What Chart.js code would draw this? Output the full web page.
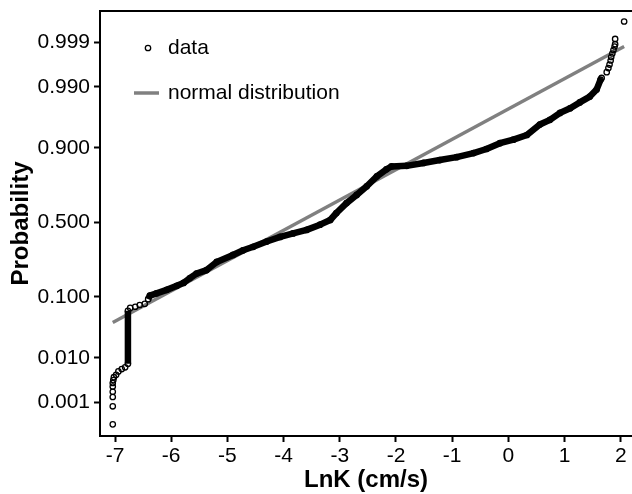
<!DOCTYPE html>
<html>
<head>
<meta charset="utf-8">
<script src="https://cdn.jsdelivr.net/npm/chart.js@4.4.1/dist/chart.umd.min.js"></script>
<style>
  html, body { margin: 0; padding: 0; background: #fff; overflow: hidden; }
  #wrap { width: 632px; height: 494px; }
</style>
</head>
<body>
<div id="wrap"><canvas id="chart" width="632" height="494"></canvas></div>
<script>
// LnK values and their normal scores (probit of plotting position)
const lowTailLnK = [-7.04, -7.04, -7.04, -7.04, -7.04, -7.04, -7.03, -7.02, -6.98, -6.94, -6.88, -6.82];
const lowTailZ   = [-3.47, -3.16, -3.00, -2.91, -2.82, -2.76, -2.71, -2.66, -2.62, -2.56, -2.52, -2.49];

// dense vertical run at about -6.8
const jumpLnK = [-6.77, -6.77];
const jumpZ   = [-2.43, -1.52];

const gapLnK = [-6.73, -6.64, -6.56, -6.47];
const gapZ   = [-1.47, -1.45, -1.42, -1.40];

// dense main body
const bodyLnK = [-6.41, -6.38, -6.26, -6.08, -5.90, -5.78, -5.67, -5.55, -5.37, -5.19,
                 -4.90, -4.72, -4.54, -4.30, -4.06, -3.83, -3.59, -3.35, -3.17, -3.06,
                 -2.88, -2.70, -2.52, -2.34, -2.17, -2.08, -1.81, -1.51, -1.22, -0.92,
                 -0.62, -0.39, -0.15, 0.09, 0.33, 0.56, 0.74, 0.92, 1.10, 1.27,
                 1.45, 1.57, 1.64, 1.66];
const bodyZ   = [-1.32, -1.26, -1.22, -1.16, -1.09, -1.04, -0.96, -0.88, -0.82, -0.68,
                 -0.56, -0.48, -0.42, -0.33, -0.25, -0.19, -0.13, -0.04, 0.04, 0.16,
                 0.33, 0.47, 0.62, 0.79, 0.91, 0.96, 0.97, 1.02, 1.07, 1.12,
                 1.19, 1.26, 1.36, 1.42, 1.50, 1.68, 1.76, 1.88, 1.96, 2.06,
                 2.16, 2.28, 2.45, 2.48];

const highTailLnK = [1.75, 1.78, 1.80, 1.82, 1.83, 1.85, 1.87, 1.89, 1.90, 1.90, 2.06];
const highTailZ   = [2.58, 2.65, 2.71, 2.78, 2.84, 2.90, 2.96, 3.02, 3.06, 3.15, 3.45];

// fitted normal distribution line (end points)
const normLnK = [-7.04, 2.06];
const normZ   = [-1.72, 3.02];

const xTicks = [-7, -6, -5, -4, -3, -2, -1, 0, 1, 2];
const probTicks = [0.001, 0.01, 0.1, 0.5, 0.9, 0.99, 0.999];
const legendLabels = ['data', 'normal distribution'];

// inverse standard normal CDF (Acklam)
function probit(p) {
    const a = [-3.969683028665376e+01, 2.209460984245205e+02, -2.759285104469687e+02, 1.383577518672690e+02, -3.066479806614716e+01, 2.506628277459239e+00];
    const b = [-5.447609879822406e+01, 1.615858368580409e+02, -1.556989798598866e+02, 6.680131188771972e+01, -1.328068155833033e+01];
    const c = [-7.784894002430293e-03, -3.223964580411365e-01, -2.400758277161838e+00, -2.549732539343734e+00, 4.374664141464968e+00, 2.938163982698783e+00];
    const d = [7.784695709041462e-03, 3.224671290700398e-01, 2.445134137142996e+00, 3.754408661907416e+00];
    const pl = 0.02425;
    let q, r;
    if (p < pl) {
        q = Math.sqrt(-2 * Math.log(p));
        return (((((c[0]*q+c[1])*q+c[2])*q+c[3])*q+c[4])*q+c[5]) / ((((d[0]*q+d[1])*q+d[2])*q+d[3])*q+1);
    }
    if (p > 1 - pl) {
        q = Math.sqrt(-2 * Math.log(1 - p));
        return -(((((c[0]*q+c[1])*q+c[2])*q+c[3])*q+c[4])*q+c[5]) / ((((d[0]*q+d[1])*q+d[2])*q+d[3])*q+1);
    }
    q = p - 0.5; r = q * q;
    return (((((a[0]*r+a[1])*r+a[2])*r+a[3])*r+a[4])*r+a[5])*q / (((((b[0]*r+b[1])*r+b[2])*r+b[3])*r+b[4])*r+1);
}

function pts(xs, ys) {
    return xs.map((x, i) => ({ x: x, y: ys[i] }));
}

const allPoints = [].concat(
    pts(lowTailLnK, lowTailZ), pts(jumpLnK, jumpZ), pts(gapLnK, gapZ),
    pts(bodyLnK, bodyZ), pts(highTailLnK, highTailZ)
);
// dense parts drawn as a thick stroke, broken between the two runs
const bandPoints = [].concat(pts(jumpLnK, jumpZ), [{ x: -6.6, y: null }], pts(bodyLnK, bodyZ));

const FONT = '"Liberation Sans", Arial, sans-serif';

const frameAndLegend = {
    id: 'frameAndLegend',
    afterDraw(chart) {
        const ctx = chart.ctx;
        const area = chart.chartArea;
        ctx.save();
        // top frame line
        ctx.strokeStyle = '#000';
        ctx.lineWidth = 2;
        ctx.beginPath();
        ctx.moveTo(area.left - 1, area.top);
        ctx.lineTo(area.right, area.top);
        ctx.stroke();

        // legend inside plot
        ctx.font = '21px ' + FONT;
        ctx.fillStyle = '#000';
        ctx.textBaseline = 'middle';
        ctx.textAlign = 'left';
        ctx.lineWidth = 1.3;
        ctx.beginPath();
        ctx.arc(148, 48, 2.7, 0, Math.PI * 2);
        ctx.stroke();
        ctx.fillText(legendLabels[0], 168, 48);

        ctx.strokeStyle = '#808080';
        ctx.lineWidth = 3.5;
        ctx.beginPath();
        ctx.moveTo(134, 93);
        ctx.lineTo(159, 93);
        ctx.stroke();
        ctx.fillText(legendLabels[1], 168, 93);
        ctx.restore();
    }
};

new Chart(document.getElementById('chart').getContext('2d'), {
    type: 'scatter',
    data: {
        datasets: [
            {
                label: legendLabels[0],
                data: allPoints,
                pointRadius: 2.7,
                pointBorderWidth: 1.3,
                pointBorderColor: '#000',
                pointBackgroundColor: 'rgba(0,0,0,0)',
                showLine: false,
                order: 0
            },
            {
                label: 'band',
                data: bandPoints,
                showLine: true,
                spanGaps: false,
                borderColor: '#000',
                borderWidth: 6.5,
                pointRadius: 0,
                borderJoinStyle: 'round',
                order: 1
            },
            {
                label: legendLabels[1],
                data: pts(normLnK, normZ),
                showLine: true,
                borderColor: '#808080',
                borderWidth: 3.5,
                pointRadius: 0,
                order: 2
            }
        ]
    },
    options: {
        responsive: false,
        animation: false,
        devicePixelRatio: 1,
        layout: { autoPadding: false, padding: { top: 11, right: 0, left: 0, bottom: 0 } },
        plugins: {
            legend: { display: false },
            tooltip: { enabled: false }
        },
        scales: {
            x: {
                type: 'linear',
                min: -7.267,
                max: 2.2,
                afterBuildTicks: s => { s.ticks = xTicks.map(v => ({ value: v })); },
                afterFit: s => { s.height = 58; s.paddingLeft = 0; s.paddingRight = 0; },
                ticks: {
                    color: '#000',
                    font: { family: FONT, size: 21 },
                    padding: 2,
                    maxRotation: 0,
                    autoSkip: false
                },
                grid: { drawOnChartArea: false, drawTicks: true, tickLength: 6, tickWidth: 2, tickColor: '#000' },
                border: { color: '#000', width: 2 },
                title: {
                    display: true,
                    text: 'LnK (cm/s)',
                    color: '#000',
                    font: { family: FONT, size: 24, weight: 'bold', lineHeight: 1.1 },
                    padding: 0
                }
            },
            y: {
                type: 'linear',
                min: -3.67,
                max: 3.63,
                afterBuildTicks: s => { s.ticks = probTicks.map(p => ({ value: probit(p) })); },
                afterFit: s => { s.width = 100; s.paddingTop = 0; s.paddingBottom = 0; },
                ticks: {
                    color: '#000',
                    font: { family: FONT, size: 21 },
                    padding: 4,
                    autoSkip: false,
                    callback: (v, i) => probTicks[i].toFixed(3)
                },
                grid: { drawOnChartArea: false, drawTicks: true, tickLength: 6, tickWidth: 2, tickColor: '#000' },
                border: { color: '#000', width: 2 },
                title: {
                    display: true,
                    text: 'Probability',
                    color: '#000',
                    font: { family: FONT, size: 24, weight: 'bold', lineHeight: 1.1 },
                    padding: { top: 8, bottom: 0 }
                }
            }
        }
    },
    plugins: [frameAndLegend]
});
</script>
</body>
</html>
